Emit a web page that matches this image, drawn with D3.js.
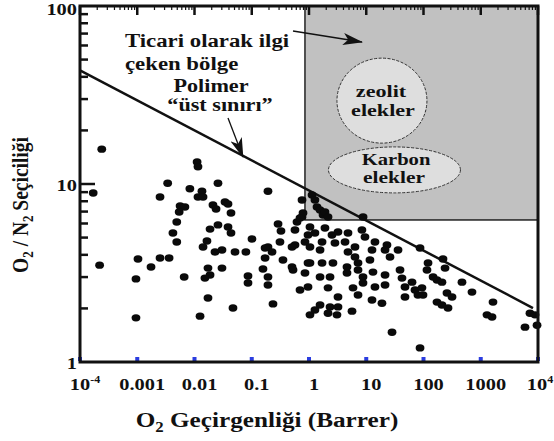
<!DOCTYPE html>
<html>
<head>
<meta charset="utf-8">
<script src="https://cdn.jsdelivr.net/npm/d3@7"></script>
<style>
  body { margin: 0; background: #fff; }
</style>
</head>
<body>
<svg width="554" height="441" font-family="'Liberation Serif', 'Times New Roman', 'DejaVu Serif', serif" font-weight="bold"></svg>
<script>
// O2 permeability (Barrer) and O2/N2 selectivity of the polymer membranes
const permeability = [
  2.4e-4, 1.7e-4, 2.2e-4, 9.5e-4, 9.5e-4, 1.03e-3, 1.74e-3, 2.5e-3, 3.6e-3, 6.6e-3,
  3.4e-3, 2.5e-3, 8.3e-3, 0.0115, 5.6e-3, 6.8e-3, 5.4e-3, 4.9e-3, 4.2e-3, 4.9e-3,
  0.0111, 0.0115, 0.0257, 0.0135, 0.0141, 0.192, 0.021, 0.0238, 0.0341, 0.0385,
  0.0434, 0.0257, 0.0187, 0.0385, 0.0434, 0.0165, 0.0141, 0.101, 0.288, 0.324,
  0.617, 0.755, 0.569, 0.755, 1.13, 0.192, 0.311, 0.569, 0.961,
  1.27, 1.38, 1.56, 1.76, 1.90, 2.15, 8.8, 0.786, 0.697,
  1.04, 1.27, 1.90, 2.52, 3.21, 4.8, 4.26, 8.4, 9.5, 14.2, 0.851, 1.69, 2.84, 6.36, 23.0,
  0.0228, 0.0302, 0.051, 0.079, 0.171, 0.226, 0.505, 0.171, 0.351, 0.505,
  0.526, 0.961, 0.0172, 0.0302, 0.0187, 0.0152, 0.086, 0.086, 0.157, 0.192,
  0.192, 0.851, 0.697, 0.961, 0.0172, 0.047, 0.235, 0.0125, 1.04,
  1.04, 1.56, 4.8, 6.36, 12.6, 21.3, 35.9, 87, 1.04, 1.69,
  2.62, 4.61, 7.18, 11.6, 26.0, 1.56, 2.33, 4.61, 7.18, 8.77,
  13.1, 21.3, 38.9, 42.1, 63, 2.15, 5.87, 8.77, 14.2, 21.3,
  47.5, 71, 47.5, 80, 3.21, 7.18, 12.6, 18.8, 1.56, 2.33,
  3.21, 1.27, 2.15, 3.08, 5.64, 28.2, 87,
  219, 120, 115, 238, 147, 172, 210, 470, 94, 98,
  257, 315, 703, 172, 210, 268, 1637, 1285, 1574, 7240, 8870, 9620, 5930
];
const selectivity = [
  15.7, 8.9, 3.5, 2.93, 1.77, 3.79, 3.42, 3.84, 3.84, 3.0,
  10.1, 8.45, 9.4, 8.45, 7.52, 7.43, 6.96, 6.12, 5.31, 4.72,
  13.3, 12.5, 10.1, 9.1, 8.45, 9.1, 7.62, 7.24, 7.92, 7.72,
  6.87, 5.89, 5.58, 5.73, 5.31, 4.78, 4.43, 4.91, 5.96, 5.44,
  6.12, 6.53, 5.52, 8.13, 8.67, 4.43, 4.72, 4.54, 5.17,
  8.13, 7.43, 7.14, 6.69, 6.96, 6.53, 6.53, 6.87, 6.44,
  5.73, 5.31, 5.66, 5.17, 5.37, 5.31, 4.72, 5.52, 5.04, 4.72, 4.72, 4.72, 4.66, 4.43, 4.54,
  4.15, 4.26, 4.15, 4.15, 4.37, 4.15, 4.43, 3.84, 3.74, 3.42,
  3.29, 3.60, 3.37, 3.37, 3.08, 2.96, 3.04, 2.78, 3.33, 3.0,
  2.71, 3.16, 2.54, 2.64, 2.29, 2.01, 2.12, 1.81, 1.84,
  4.43, 4.26, 4.15, 3.89, 4.26, 4.26, 4.26, 4.37, 3.60, 3.60,
  3.60, 3.42, 3.60, 3.74, 3.89, 3.0, 3.0, 3.16, 3.29, 3.0,
  3.20, 3.08, 3.29, 2.96, 2.81, 2.61, 2.61, 2.78, 2.64, 2.71,
  2.64, 2.54, 2.32, 2.38, 2.32, 2.38, 2.23, 2.14, 2.09, 2.04,
  2.04, 1.96, 1.88, 1.84, 1.93, 1.47, 1.20,
  3.79, 3.60, 3.29, 3.37, 3.0, 2.89, 2.81, 2.81, 2.61, 2.38,
  2.44, 2.32, 2.47, 2.17, 2.09, 2.01, 2.17, 1.84, 1.79, 1.88, 1.84, 1.61, 1.57
];

// polymer "upper bound" line end points
const boundPerm = [1e-4, 8180];
const boundSel = [43.5, 2.01];

// commercially attractive region
const regionPerm = [0.85, 1e4];
const regionSel = [6.28, 100];

const xTicks = [1e-4, 1e-3, 0.01, 0.1, 1, 10, 100, 1000, 1e4];
const xTickLabels = [["10", "-4"], ["0.001"], ["0.01"], ["0.1"], ["1"], ["10"], ["100"], ["1000"], ["10", "4"]];
const yTicks = [1, 10, 100];
const yTickLabels = ["1", "10", "100"];

const margin = {left: 80, right: 16, top: 6, bottom: 79};
const width = 554, height = 441;
const stretch = 1.2; // the original lettering is a bit wide

const svg = d3.select("svg");

const x = d3.scaleLog().domain([1e-4, 1e4]).range([margin.left, width - margin.right]);
const y = d3.scaleLog().domain([1, 100]).range([height - margin.bottom, margin.top]);

// arrow head
svg.append("defs").append("marker")
    .attr("id", "head")
    .attr("markerUnits", "userSpaceOnUse")
    .attr("markerWidth", 20).attr("markerHeight", 12)
    .attr("refX", 19).attr("refY", 6)
    .attr("orient", "auto")
  .append("path")
    .attr("d", "M0,0 L20,6 L0,12 L5,6 Z")
    .attr("fill", "#111");

// gray region
svg.append("rect")
    .attr("x", x(regionPerm[0]))
    .attr("y", y(regionSel[1]))
    .attr("width", x(regionPerm[1]) - x(regionPerm[0]))
    .attr("height", y(regionSel[0]) - y(regionSel[1]))
    .attr("fill", "#c1c1c1")
    .attr("stroke", "#222")
    .attr("stroke-width", 1.5);

// upper bound line
svg.append("line")
    .attr("x1", x(boundPerm[0])).attr("y1", y(boundSel[0]))
    .attr("x2", x(boundPerm[1])).attr("y2", y(boundSel[1]))
    .attr("stroke", "#111")
    .attr("stroke-width", 2.5);

// data points
svg.append("g").selectAll("ellipse")
    .data(permeability.map((p, i) => [p, selectivity[i]]))
    .join("ellipse")
    .attr("cx", d => x(d[0]))
    .attr("cy", d => y(d[1]))
    .attr("rx", 4.4)
    .attr("ry", 3.7)
    .attr("fill", "#0a0a0a");

// sieve bubbles
svg.append("ellipse")
    .attr("cx", x(18.8)).attr("cy", y(29.4))
    .attr("rx", 45).attr("ry", 42.5)
    .attr("fill", "#dedede").attr("stroke", "#333")
    .attr("stroke-width", 1).attr("stroke-dasharray", "3,1.5");
svg.append("ellipse")
    .attr("cx", x(31.1)).attr("cy", y(12.0))
    .attr("rx", 66).attr("ry", 23)
    .attr("fill", "#dedede").attr("stroke", "#333")
    .attr("stroke-width", 1).attr("stroke-dasharray", "3,1.5");

function label(px, py, str, size, anchor, sx) {
  return svg.append("text")
      .attr("transform", `translate(${px},${py}) scale(${sx || stretch},1)`)
      .attr("font-size", size)
      .attr("fill", "#111")
      .attr("text-anchor", anchor || "start")
      .text(str);
}

label(381, 97, "zeolit", 17, "middle", 1.3);
label(383, 116, "elekler", 17, "middle", 1.3);
label(396, 165, "Karbon", 16.5, "middle", 1.25);
label(394, 183, "elekler", 16.5, "middle", 1.3);

label(125, 47, "Ticari olarak ilgi", 19);
label(125, 70, "çeken bölge", 19);
label(211, 92, "Polimer", 18.5, "middle");
label(220, 111, "“üst sınırı”", 18.5, "middle");

// annotation arrows
svg.append("line")
    .attr("x1", 293).attr("y1", 31).attr("x2", 362).attr("y2", 42)
    .attr("stroke", "#111").attr("stroke-width", 1.3)
    .attr("marker-end", "url(#head)");
svg.append("line")
    .attr("x1", 228).attr("y1", 118).attr("x2", 243).attr("y2", 157)
    .attr("stroke", "#111").attr("stroke-width", 1.3)
    .attr("marker-end", "url(#head)");

// ticks
const axes = svg.append("g").attr("stroke", "#111");
const yMinor = [];
[1, 10].forEach(dec => d3.range(2, 10).forEach(k => yMinor.push(dec * k)));
axes.selectAll(".ymin").data(yMinor).join("line")
    .attr("x1", margin.left).attr("x2", margin.left + 8)
    .attr("y1", d => y(d)).attr("y2", d => y(d))
    .attr("stroke-width", 2.5);
axes.append("line")
    .attr("x1", margin.left).attr("x2", margin.left + 15)
    .attr("y1", y(10)).attr("y2", y(10))
    .attr("stroke-width", 2.5);

const xMinor = [];
[1e-4, 1e-3, 0.01, 0.1, 1, 10, 100, 1000].forEach(dec => d3.range(2, 10).forEach(k => xMinor.push(dec * k)));
axes.selectAll(".xmin").data(xMinor).join("line")
    .attr("x1", d => x(d)).attr("x2", d => x(d))
    .attr("y1", margin.top).attr("y2", margin.top + 4)
    .attr("stroke-width", 1.2);
axes.selectAll(".xmaj").data(xTicks).join("line")
    .attr("x1", d => x(d)).attr("x2", d => x(d))
    .attr("y1", margin.top).attr("y2", margin.top + 9)
    .attr("stroke-width", 2.5);

// little blue marks on the bottom axis
svg.selectAll(".blue").data(xTicks).join("rect")
    .attr("x", d => x(d) - 2)
    .attr("y", y(1) - 5)
    .attr("width", 4).attr("height", 4)
    .attr("fill", "#2b3de0");

// frame
svg.append("rect")
    .attr("x", margin.left).attr("y", margin.top)
    .attr("width", x(1e4) - margin.left)
    .attr("height", y(1) - margin.top)
    .attr("fill", "none")
    .attr("stroke", "#111")
    .attr("stroke-width", 3);

// tick labels
xTicks.forEach((v, i) => {
  const px = i == xTicks.length - 1 ? x(v) + 2 : x(v) + 5;
  const t = label(px, 390, xTickLabels[i][0], 17, "middle");
  if (xTickLabels[i][1]) {
    t.append("tspan").attr("font-size", 10).attr("dy", -7).text(xTickLabels[i][1]);
  }
});
yTicks.forEach((v, i) => {
  label(77, Math.max(y(v) + 7, 15), yTickLabels[i], 17, "end");
});

// axis titles
const xt = label(267, 427, "O", 21, "middle");
xt.append("tspan").attr("font-size", 14).attr("dy", 5).text("2");
xt.append("tspan").attr("dy", -5).text(" Geçirgenliği (Barrer)");

const yt = svg.append("text")
    .attr("transform", `translate(28,205) rotate(-90) scale(1,${stretch})`)
    .attr("font-size", 19.5)
    .attr("fill", "#111")
    .attr("text-anchor", "middle");
yt.append("tspan").text("O");
yt.append("tspan").attr("font-size", 13).attr("dy", 4).text("2");
yt.append("tspan").attr("dy", -4).text(" / N");
yt.append("tspan").attr("font-size", 13).attr("dy", 4).text("2");
yt.append("tspan").attr("dy", -4).text(" Seçiciliği");
</script>
</body>
</html>
